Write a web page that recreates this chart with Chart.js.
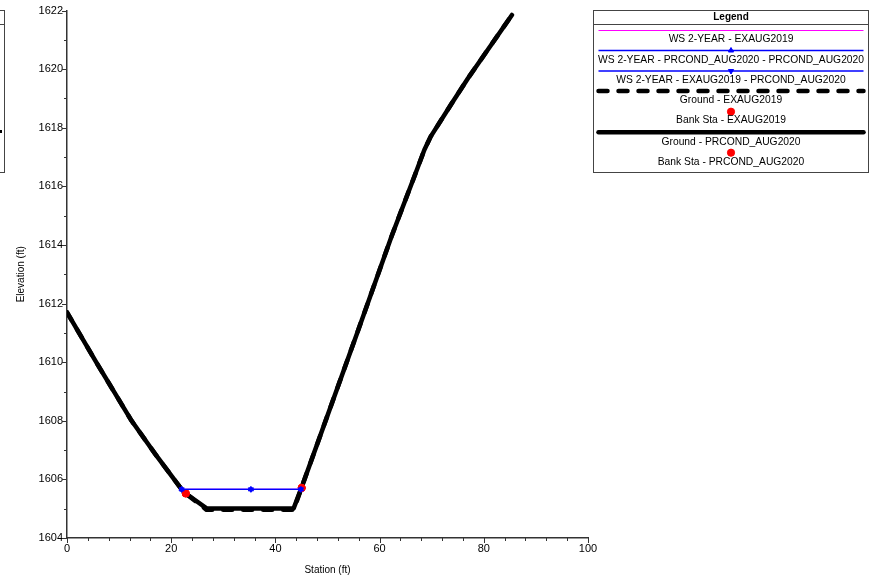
<!DOCTYPE html>
<html><head><meta charset="utf-8">
<script src="https://cdn.jsdelivr.net/npm/chart.js@4.4.0/dist/chart.umd.min.js"></script>
<style>html,body{margin:0;padding:0;background:#fff;}#wrap{width:871px;height:580px;position:relative;}</style>
</head><body><div id="wrap"><canvas id="c" width="871" height="580"></canvas></div>
<script>
// ---- data ----
const groundStation   = [0, 5.6, 12.4, 17.2, 22.0, 22.8, 26.8, 43.5, 45.0, 55.7, 62.3, 66.8, 68.6, 69.8, 73.8, 77.0, 85.4];
const groundElevPr    = [1611.7, 1610.0, 1608.0, 1606.8, 1605.66, 1605.52, 1605.01, 1605.01, 1605.71, 1611.0, 1614.3, 1616.4, 1617.25, 1617.7, 1618.82, 1619.7, 1621.85];
const groundElevEx    = [1611.7, 1610.0, 1608.0, 1606.8, 1605.66, 1605.52, 1604.96, 1604.96, 1605.71, 1611.0, 1614.3, 1616.4, 1617.25, 1617.7, 1618.82, 1619.7, 1621.85];
const bankStation     = [22.8, 45.05];
const bankElev        = [1605.52, 1605.71];
const wsStation       = [22.0, 35.3, 44.9];
const wsElev          = [1605.66, 1605.66, 1605.66];
const wsExStation     = [22.0, 44.9];
const wsExElev        = [1605.66, 1605.66];
const seriesLabels    = ['WS 2-YEAR - EXAUG2019', 'WS 2-YEAR - PRCOND_AUG2020 - PRCOND_AUG2020', 'WS 2-YEAR - EXAUG2019 - PRCOND_AUG2020', 'Ground - EXAUG2019', 'Bank Sta - EXAUG2019', 'Ground - PRCOND_AUG2020', 'Bank Sta - PRCOND_AUG2020'];
const xMajorStep = 20, xMinorStep = 4, xMin = 0, xMax = 100;
const yMajorStep = 2,  yMinorStep = 1, yMin = 1604, yMax = 1622;
const xTitle = 'Station (ft)', yTitle = 'Elevation (ft)', legendTitle = 'Legend';

const pts = (xs, ys) => xs.map((x, i) => ({x: x, y: ys[i]}));
const FONT = '"Liberation Sans", Arial, sans-serif';
const AXIS = '#333';

const datasets = [
  {label: seriesLabels[0], data: pts(wsExStation, wsExElev), showLine: true, borderColor: '#ff00ff', backgroundColor: '#ff00ff', borderWidth: 1.2, pointRadius: 0, order: 3},
  {label: seriesLabels[1], data: pts(wsStation, wsElev), showLine: true, borderColor: '#0000ff', backgroundColor: '#0000ff', borderWidth: 1.3, pointStyle: 'triangle', pointRadius: 3, pointBorderWidth: 1, order: 1},
  {label: seriesLabels[2], data: pts(wsStation, wsElev), showLine: true, borderColor: '#0000ff', backgroundColor: '#0000ff', borderWidth: 1.3, pointStyle: 'triangle', rotation: 180, pointRadius: 3, pointBorderWidth: 1, order: 0},
  {label: seriesLabels[3], data: pts(groundStation, groundElevEx), showLine: true, borderColor: '#000', backgroundColor: '#000', borderWidth: 4.5, borderDash: [9, 11], borderCapStyle: 'round', borderJoinStyle: 'round', pointRadius: 0, order: 7},
  {label: seriesLabels[4], data: pts(bankStation, bankElev), showLine: false, borderColor: '#ff0000', backgroundColor: '#ff0000', pointStyle: 'circle', pointRadius: 3.6, order: 4},
  {label: seriesLabels[5], data: pts(groundStation, groundElevPr), showLine: true, borderColor: '#000', backgroundColor: '#000', borderWidth: 4.5, borderCapStyle: 'round', borderJoinStyle: 'round', pointRadius: 0, order: 6},
  {label: seriesLabels[6], data: pts(bankStation, bankElev), showLine: false, borderColor: '#ff0000', backgroundColor: '#ff0000', pointStyle: 'circle', pointRadius: 3.6, order: 5}
];

// tick marks (major long, minor short) drawn from the scales
const tickPlugin = {
  id: 'ticks2',
  afterDraw(chart) {
    const ctx = chart.ctx, xs = chart.scales.x, ys = chart.scales.y, a = chart.chartArea;
    ctx.save();
    ctx.strokeStyle = AXIS; ctx.lineWidth = 1;
    xs.ticks.forEach(t => {
      const px = Math.round(xs.getPixelForValue(t.value)) + 0.5;
      const len = (t.value % xMajorStep === 0) ? 5 : 3;
      ctx.beginPath(); ctx.moveTo(px, a.bottom); ctx.lineTo(px, a.bottom + len); ctx.stroke();
    });
    ys.ticks.forEach(t => {
      const py = Math.round(ys.getPixelForValue(t.value)) + 0.5;
      const len = (Math.round(t.value - yMin) % yMajorStep === 0) ? 5 : 3;
      ctx.beginPath(); ctx.moveTo(a.left, py); ctx.lineTo(a.left - len, py); ctx.stroke();
    });
    ctx.restore();
  }
};

// boxed legend in the HEC-RAS style
const legendPlugin = {
  id: 'boxLegend',
  afterDraw(chart) {
    const ctx = chart.ctx;
    const L = 593.5, R = 868.5, T = 10.5, B = 172.5, cx = (L + R) / 2;
    ctx.save();
    ctx.fillStyle = '#fff'; ctx.fillRect(L, T, R - L, B - T);
    ctx.strokeStyle = '#444'; ctx.lineWidth = 1;
    ctx.strokeRect(L, T, R - L, B - T);
    ctx.beginPath(); ctx.moveTo(L, 24.5); ctx.lineTo(R, 24.5); ctx.stroke();
    ctx.fillStyle = '#000'; ctx.textAlign = 'center'; ctx.textBaseline = 'middle';
    ctx.font = 'bold 10px ' + FONT;
    ctx.fillText(legendTitle, cx, 17);
    ctx.font = '10.3px ' + FONT;
    const sampleY = [30.5, 50.5, 71, 91, 111.7, 132.3, 152.7];
    const textY   = [39.5, 60, 80.5, 100.5, 120.5, 141.7, 161.7];
    chart.data.datasets.forEach((ds, i) => {
      const y = sampleY[i];
      if (ds.showLine) {
        ctx.save();
        ctx.strokeStyle = ds.borderColor; ctx.lineWidth = ds.borderWidth;
        ctx.lineCap = ds.borderCapStyle || 'butt';
        ctx.setLineDash(ds.borderDash || []);
        const x0 = L + 5, x1 = R - 5;
        ctx.beginPath(); ctx.moveTo(x0, y); ctx.lineTo(x1, y); ctx.stroke();
        ctx.restore();
      }
      if (ds.pointRadius > 0) {
        ctx.save();
        ctx.fillStyle = ds.backgroundColor; ctx.strokeStyle = ds.borderColor; ctx.lineWidth = 1;
        Chart.helpers.drawPoint(ctx, {pointStyle: ds.pointStyle, rotation: ds.rotation || 0, radius: ds.pointRadius, borderWidth: 1}, cx, y);
        ctx.restore();
      }
      ctx.fillStyle = '#000';
      ctx.fillText(ds.label, cx, textY[i]);
    });
    // partially visible neighbouring legend box at the left edge
    ctx.strokeStyle = '#444'; ctx.lineWidth = 1;
    ctx.strokeRect(-50.5, T, 55, B - T);
    ctx.beginPath(); ctx.moveTo(0, 24.5); ctx.lineTo(4.5, 24.5); ctx.stroke();
    ctx.fillStyle = '#000'; ctx.fillRect(0, 130, 2, 3);
    ctx.restore();
  }
};

new Chart(document.getElementById('c'), {
  type: 'scatter',
  data: {datasets: datasets},
  options: {
    responsive: false, animation: false, devicePixelRatio: 1,
    layout: {padding: {top: 10, right: 283, left: 0, bottom: 0}},
    plugins: {legend: {display: false}, tooltip: {enabled: false}},
    scales: {
      x: {
        type: 'linear', min: xMin, max: xMax,
        afterFit: s => { s.height = 42; },
        grid: {display: false, drawTicks: false, tickLength: 0},
        border: {display: true, color: AXIS, width: 1.5},
        ticks: {stepSize: xMinorStep, autoSkip: false, maxRotation: 0, padding: 4, color: '#000',
                font: {family: FONT, size: 11},
                callback: v => (v % xMajorStep === 0 ? String(v) : '')},
        title: {display: true, text: xTitle, color: '#000', font: {family: FONT, size: 10}, padding: {top: 0, bottom: 4}}
      },
      y: {
        type: 'linear', min: yMin, max: yMax,
        afterFit: s => { s.width = 67; },
        grid: {display: false, drawTicks: false, tickLength: 0},
        border: {display: true, color: AXIS, width: 1.5},
        ticks: {stepSize: yMinorStep, autoSkip: false, padding: 4, color: '#000',
                font: {family: FONT, size: 11},
                callback: v => (Math.round(v - yMin) % yMajorStep === 0 ? String(v) : '')},
        title: {display: true, text: yTitle, color: '#000', font: {family: FONT, size: 10}, padding: {top: 15, bottom: 0}}
      }
    }
  },
  plugins: [tickPlugin, legendPlugin]
});
</script>
</body></html>
